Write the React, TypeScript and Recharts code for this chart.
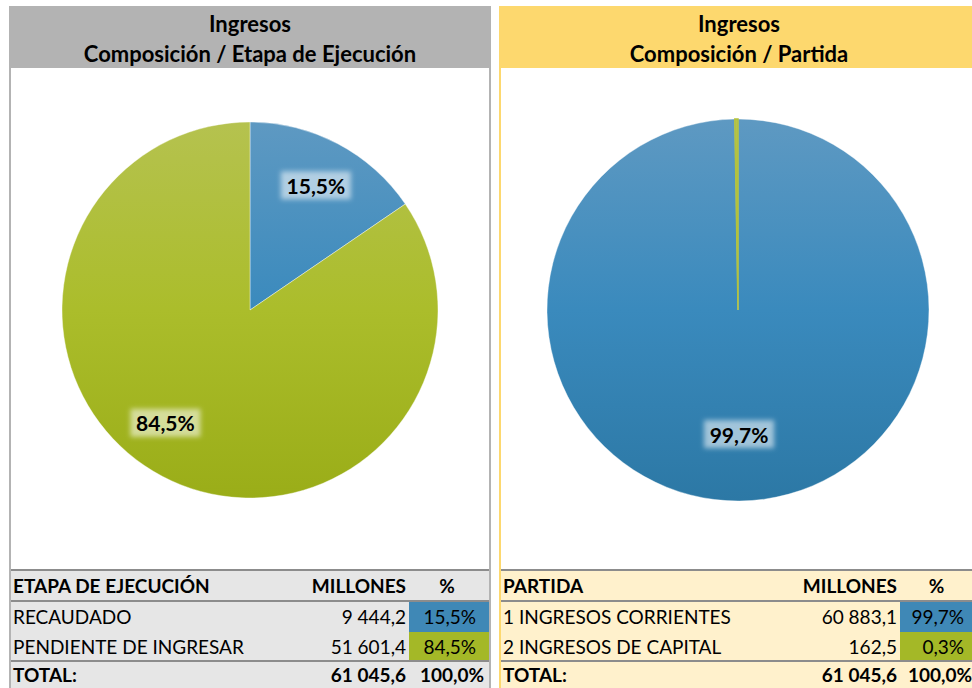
import { PieChart, Pie, Cell } from 'recharts';

const etapaNames = ['RECAUDADO', 'PENDIENTE DE INGRESAR'];
const etapaMillones = [9444.2, 51601.4];
const etapaPct = [15.5, 84.5];

const partidaNames = ['1 INGRESOS CORRIENTES', '2 INGRESOS DE CAPITAL'];
const partidaMillones = [60883.1, 162.5];
const partidaPct = [99.7, 0.3];

const totalMillones = 61045.6;
const totalPct = 100.0;

const FONT = 'Lato, Carlito, Calibri, sans-serif';
const RAD = Math.PI / 180;

const fmtNum = (v: number) => {
  const [int, dec] = v.toFixed(1).split('.');
  return int.replace(/\B(?=(\d{3})+(?!\d))/g, '\u202F') + ',' + dec;
};
const fmtPct = (v: number) => v.toFixed(1).replace('.', ',') + '%';

type PanelProps = {
  id: string;
  left: number;
  width: number;
  headerColor: string;
  borderColor: string;
  tableBg: string;
  subtitle: string;
  colTitle: string;
  names: string[];
  millones: number[];
  pct: number[];
  cx: number;
  radius: number;
  labelRatio: number;
  labelShift: number;
  greenOutline: boolean;
  pctColLeft: number;
  numRight: number;
};

const Panel = (p: PanelProps) => {
  const data = p.names.map((name, i) => ({ name, value: p.millones[i], pct: p.pct[i] }));
  const cy = 237;
  const chartH = 500;

  const renderLabel = (props: any) => {
    const { cx, cy, midAngle, outerRadius, index } = props;
    const pct = p.pct[index];
    if (pct < 1) return null;
    // Excel "best fit" nudges the big slice's label a bit further round
    const ang = index === 1 ? midAngle + p.labelShift : midAngle;
    const r = outerRadius * p.labelRatio;
    const x = cx + r * Math.cos(-ang * RAD);
    const y = cy + r * Math.sin(-ang * RAD);
    return (
      <g>
        <rect x={x - 35} y={y - 14} width={70} height={28} fill="#ffffff" fillOpacity={0.55}
          filter={`url(#glow-${p.id})`} />
        <text x={x} y={y} textAnchor="middle" dominantBaseline="central"
          fontFamily={FONT} fontWeight={700} fontSize={21} fill="#000">
          {fmtPct(pct)}
        </text>
      </g>
    );
  };

  const rowTop = [602, 632];
  const pctW = p.width - p.pctColLeft;
  const txt = { position: 'absolute' as const, fontFamily: FONT, fontSize: 19, color: '#000', whiteSpace: 'nowrap' as const };

  return (
    <div style={{ position: 'absolute', left: p.left, top: 0, width: p.width, height: 688 }}>
      {/* header */}
      <div style={{
        position: 'absolute', left: 0, top: 6, width: p.width, height: 62, background: p.headerColor,
        fontFamily: FONT, fontWeight: 700, fontSize: 22, color: '#000', textAlign: 'center', lineHeight: '30px',
      }}>
        <div style={{ marginTop: 3 }}>Ingresos</div>
        <div>{p.subtitle}</div>
      </div>
      {/* side borders */}
      <div style={{ position: 'absolute', left: 0, top: 68, width: 2, height: 620, background: p.borderColor }} />
      <div style={{ position: 'absolute', left: p.width - 2, top: 68, width: 2, height: 620, background: p.borderColor }} />

      {/* pie */}
      <div style={{ position: 'absolute', left: 0, top: 68 }}>
        <PieChart width={p.width} height={chartH}>
          <defs>
            <linearGradient id={`blue-${p.id}`} gradientUnits="userSpaceOnUse" x1={0} y1={cy + 5 - p.radius} x2={0} y2={cy + 5 + p.radius}>
              <stop offset="0%" stopColor="#5e99c2" />
              <stop offset="50%" stopColor="#3a8abd" />
              <stop offset="100%" stopColor="#2c78a5" />
            </linearGradient>
            <linearGradient id={`green-${p.id}`} gradientUnits="userSpaceOnUse" x1={0} y1={cy + 5 - p.radius} x2={0} y2={cy + 5 + p.radius}>
              <stop offset="0%" stopColor="#b5c24f" />
              <stop offset="50%" stopColor="#abbd2b" />
              <stop offset="100%" stopColor="#9aad18" />
            </linearGradient>
            <filter id={`glow-${p.id}`} x="-20%" y="-40%" width="140%" height="180%">
              <feGaussianBlur stdDeviation="2.5" />
            </filter>
          </defs>
          <Pie
            data={data}
            dataKey="value"
            nameKey="name"
            cx={p.cx}
            cy={cy}
            outerRadius={p.radius}
            startAngle={90}
            endAngle={-270}
            stroke="#ffffff"
            strokeWidth={0.4}
            label={renderLabel}
            labelLine={false}
            isAnimationActive={false}
          >
            <Cell fill={`url(#blue-${p.id})`} />
            <Cell
              fill={`url(#green-${p.id})`}
              stroke={p.greenOutline ? '#b3c23c' : '#ffffff'}
              strokeWidth={p.greenOutline ? 1.5 : 0.4}
            />
          </Pie>
        </PieChart>
      </div>

      {/* table */}
      <div style={{ position: 'absolute', left: 2, top: 569, width: p.width - 4, height: 119, background: p.tableBg }} />
      <div style={{ position: 'absolute', left: 2, top: 569, width: p.width - 4, height: 2, background: '#8c8c8c' }} />
      <div style={{ position: 'absolute', left: 2, top: 600, width: p.width - 4, height: 2, background: '#8c8c8c' }} />
      <div style={{ position: 'absolute', left: 2, top: 660, width: p.width - 4, height: 2, background: '#8c8c8c' }} />

      <div style={{ ...txt, left: 4, top: 572, lineHeight: '28px', fontWeight: 700 }}>
        {p.colTitle}
      </div>
      <div style={{ ...txt, left: p.numRight - 150, width: 150, top: 572, lineHeight: '28px', textAlign: 'right', fontWeight: 700 }}>
        MILLONES
      </div>
      <div style={{ ...txt, left: p.pctColLeft, width: pctW - 6, top: 572, lineHeight: '28px', textAlign: 'center', fontWeight: 700 }}>
        %
      </div>

      {data.map((d, i) => (
        <div key={d.name}>
          <div style={{
            position: 'absolute', left: p.pctColLeft, width: pctW - 2, top: rowTop[i], height: i === 0 ? 30 : 28,
            background: i === 0 ? '#3f88b6' : '#a4b827',
          }} />
          <div style={{ ...txt, left: 4, top: rowTop[i], lineHeight: '30px' }}>
            {d.name}
          </div>
          <div style={{ ...txt, left: p.numRight - 150, width: 150, top: rowTop[i], lineHeight: '30px', textAlign: 'right' }}>
            {fmtNum(d.value)}
          </div>
          <div style={{ ...txt, left: p.pctColLeft, width: pctW - 15, top: rowTop[i], lineHeight: '30px', textAlign: 'right' }}>
            {fmtPct(d.pct)}
          </div>
        </div>
      ))}

      <div style={{ ...txt, left: 4, top: 662, lineHeight: '26px', fontWeight: 700 }}>
        TOTAL:
      </div>
      <div style={{ ...txt, left: p.numRight - 150, width: 150, top: 662, lineHeight: '26px', textAlign: 'right', fontWeight: 700 }}>
        {fmtNum(totalMillones)}
      </div>
      <div style={{ ...txt, left: p.pctColLeft - 30, width: pctW + 30 - 7, top: 662, lineHeight: '26px', textAlign: 'right', fontWeight: 700 }}>
        {fmtPct(totalPct)}
      </div>
    </div>
  );
};

const App = () => (
  <div style={{ position: 'absolute', left: 0, top: 0, width: 972, height: 688, overflow: 'hidden', background: '#fff' }}>
    <Panel
      id="etapa"
      left={9}
      width={482}
      headerColor="#b3b3b3"
      borderColor="#b3b3b3"
      tableBg="#e6e6e6"
      subtitle="Composición / Etapa de Ejecución"
      colTitle="ETAPA DE EJECUCIÓN"
      names={etapaNames}
      millones={etapaMillones}
      pct={etapaPct}
      cx={236}
      radius={188}
      labelRatio={0.75}
      labelShift={-9}
      greenOutline={false}
      pctColLeft={400}
      numRight={397}
    />
    <Panel
      id="partida"
      left={499}
      width={480}
      headerColor="#fdd86e"
      borderColor="#fdd86e"
      tableBg="#fff1cc"
      subtitle="Composición / Partida"
      colTitle="PARTIDA"
      names={partidaNames}
      millones={partidaMillones}
      pct={partidaPct}
      cx={234}
      radius={191}
      labelRatio={0.65}
      labelShift={0}
      greenOutline={true}
      pctColLeft={401}
      numRight={398}
    />
  </div>
);

export default App;
